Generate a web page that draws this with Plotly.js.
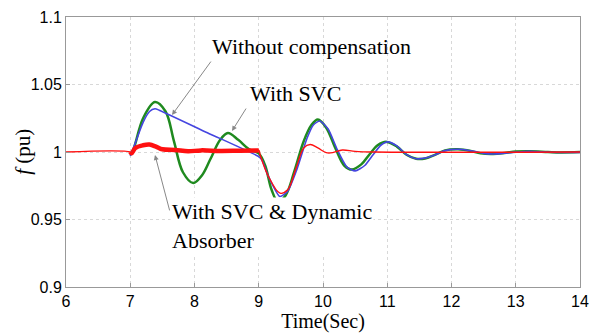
<!DOCTYPE html>
<html>
<head>
<meta charset="utf-8">
<script src="https://cdn.plot.ly/plotly-3.0.1.min.js"></script>
<style>html,body{margin:0;padding:0;background:#fff;}#chart{width:589px;height:334px;}</style>
</head>
<body>
<div id="chart"></div>
<script>
// Without compensation (blue)
const tBlue = [7, 7.05, 7.2, 7.3, 7.385, 7.45, 8.2, 9.0, 9.05, 9.15, 9.33, 9.45, 9.6, 9.75, 9.85, 9.95, 10.08, 10.22, 10.37, 10.5, 10.65, 10.78, 10.9, 11.01, 11.15, 11.3, 11.45, 11.59, 11.75, 11.9, 12.13, 12.35, 12.5, 12.65, 12.9, 13.22, 13.45, 13.7, 14];
const vBlue = [0.997, 1.003, 1.022, 1.030, 1.032, 1.031, 1.0143, 0.9965, 0.994, 0.982, 0.967, 0.971, 0.988, 1.010, 1.020, 1.023, 1.017, 1.002, 0.989, 0.986, 0.990, 0.998, 1.005, 1.0075, 1.0045, 0.998, 0.995, 0.9955, 0.998, 1.001, 1.002, 1.0005, 0.999, 0.9985, 0.9995, 1.0006, 1.0, 0.9996, 0.9997];
// With SVC (green)
const tGreen = [7, 7.05, 7.2, 7.385, 7.55, 7.68, 7.82, 7.98, 8.12, 8.25, 8.4, 8.52, 8.68, 8.85, 9.0, 9.1, 9.2, 9.3, 9.42, 9.55, 9.7, 9.82, 9.92, 10.05, 10.2, 10.33, 10.45, 10.6, 10.72, 10.85, 10.99, 11.15, 11.3, 11.45, 11.59, 11.75, 11.9, 12.1, 12.3, 12.45, 12.65, 12.85, 13.0, 13.22, 13.5, 13.7, 14];
const vGreen = [0.998, 1.002, 1.025, 1.037, 1.030, 1.008, 0.985, 0.977, 0.983, 0.995, 1.009, 1.014, 1.009, 1.002, 0.999, 0.990, 0.972, 0.963, 0.968, 0.985, 1.008, 1.020, 1.024, 1.018, 1.002, 0.990, 0.987, 0.991, 0.998, 1.005, 1.0075, 1.004, 0.998, 0.995, 0.9952, 0.998, 1.0012, 1.002, 1.0008, 0.999, 0.9985, 0.9995, 1.0003, 1.0005, 1.0, 0.9997, 1.0];
// With SVC & Dynamic Absorber (red)
const tRed = [6, 7, 7.02, 7.08, 7.2, 7.3, 7.4, 7.5, 7.7, 7.9, 8.1, 8.4, 8.7, 9.0, 9.02, 9.15, 9.33, 9.45, 9.58, 9.7, 9.8, 9.92, 10.05, 10.15, 10.3, 10.5, 10.8, 14];
const vRed = [1, 1, 0.999, 1.003, 1.005, 1.0055, 1.004, 1.002, 1.0015, 1.0005, 1.0012, 1.0008, 1.001, 1.0012, 0.998, 0.982, 0.9695, 0.972, 0.988, 1.003, 1.0055, 1.003, 0.9995, 0.9995, 1.0015, 1.0005, 1.0, 1.0];

const xTicks = [6, 7, 8, 9, 10, 11, 12, 13, 14];
const yTicks = [0.9, 0.95, 1, 1.05, 1.1];
const yTickText = ['0.9', '0.95', '1', '1.05', '1.1'];

const labelWithout = 'Without compensation';
const labelSVC = 'With SVC';
const labelAbsorber = 'With SVC &amp; Dynamic<br>Absorber';
const xTitle = 'Time(Sec)';
const yTitle = '<i>f</i> (pu)';

// thick absorber segment from the same red data
const tRedThick = tRed.filter(t => t >= 7 && t <= 9.0);
const vRedThick = vRed.filter((v, i) => tRed[i] >= 7 && tRed[i] <= 9.0);

const traces = [
  {x: tGreen, y: vGreen, mode: 'lines', line: {color: '#1f8a1f', width: 2.5, shape: 'spline', smoothing: 1}, hoverinfo: 'skip'},
  {x: tBlue, y: vBlue, mode: 'lines', line: {color: '#4545e0', width: 1.6, shape: 'spline', smoothing: 0.6}, hoverinfo: 'skip'},
  {x: tRed, y: vRed, mode: 'lines', line: {color: '#ff1010', width: 1.4, shape: 'spline', smoothing: 1}, hoverinfo: 'skip'},
  {x: tRedThick, y: vRedThick, mode: 'lines', line: {color: '#ff1010', width: 4.5, shape: 'spline', smoothing: 1}, hoverinfo: 'skip'}
];

const serif = 'Liberation Serif, Times New Roman, serif';
const tickFont = {family: 'Liberation Sans, Arial, sans-serif', size: 16, color: '#000'};

const arrowStyle = {showarrow: true, arrowhead: 2, arrowsize: 1, arrowwidth: 1, arrowcolor: '#888', axref: 'x', ayref: 'y', text: ''};

const layout = {
  width: 589, height: 334,
  margin: {l: 66, r: 9, t: 17, b: 47},
  paper_bgcolor: '#fff', plot_bgcolor: '#fff',
  showlegend: false,
  xaxis: {
    range: [6, 14.0001], tickvals: xTicks, ticktext: xTicks.map(String),
    ticklabeloverflow: 'allow',
    showgrid: true, gridcolor: '#d8d8d8', griddash: 'dot', gridwidth: 1,
    showline: true, linecolor: '#999', linewidth: 1, mirror: true,
    ticks: 'inside', ticklen: 4, tickcolor: '#999',
    tickfont: tickFont, zeroline: false,
    title: {text: xTitle, font: {family: serif, size: 20, color: '#000'}, standoff: 4}
  },
  yaxis: {
    range: [0.9, 1.1], tickvals: yTicks, ticktext: yTickText,
    showgrid: true, gridcolor: '#d8d8d8', griddash: 'dot', gridwidth: 1,
    showline: true, linecolor: '#999', linewidth: 1, mirror: true,
    ticks: 'inside', ticklen: 4, tickcolor: '#999',
    tickfont: tickFont, zeroline: false
  },
  annotations: [
    Object.assign({x: 7.65, y: 1.0274, ax: 8.272, ay: 1.0681}, arrowStyle),
    Object.assign({x: 8.584, y: 1.0156, ax: 8.817, ay: 1.0333}, arrowStyle),
    Object.assign({x: 7.385, y: 0.9978, ax: 7.619, ay: 0.9556}, arrowStyle),
    {x: 8.24, y: 1.0785, xanchor: 'left', yanchor: 'middle', text: labelWithout, showarrow: false, font: {family: serif, size: 22, color: '#000'}},
    {x: 8.83, y: 1.0437, xanchor: 'left', yanchor: 'middle', text: labelSVC, showarrow: false, font: {family: serif, size: 22, color: '#000'}},
    {x: 7.62, y: 0.9455, xanchor: 'left', yanchor: 'middle', align: 'left', text: labelAbsorber, showarrow: false, bgcolor: '#fff', borderpad: 1, font: {family: serif, size: 22, color: '#000'}},
    {xref: 'paper', yref: 'paper', x: -0.084, y: 0.5, xanchor: 'center', yanchor: 'middle', textangle: -90, text: yTitle, showarrow: false, font: {family: serif, size: 21, color: '#000'}}
  ]
};

Plotly.newPlot('chart', traces, layout, {staticPlot: true, displayModeBar: false});
</script>
</body>
</html>
